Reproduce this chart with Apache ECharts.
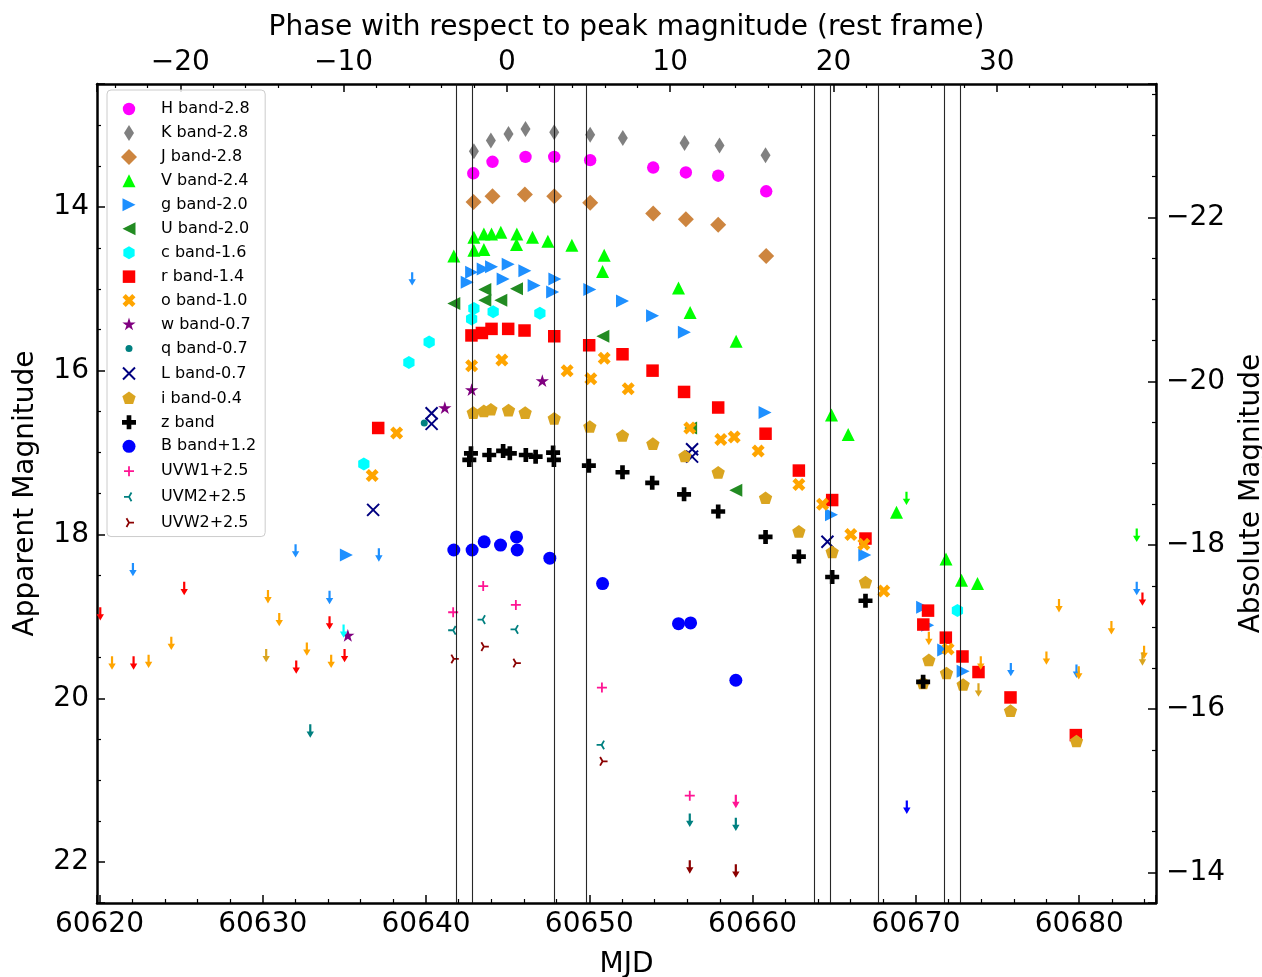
<!DOCTYPE html>
<html><head><meta charset="utf-8">
<script src="https://cdn.jsdelivr.net/npm/echarts@6/dist/echarts.min.js"></script>
<style>html,body{margin:0;padding:0;background:#fff}#c{width:1262px;height:977px}</style>
</head><body><div id="c"></div>
<script>
// ---------------- data (MJD, plotted magnitude incl. legend offsets) ----------------
const H_band = [[60642.89,13.59],[60644.07,13.45],[60646.09,13.39],[60647.85,13.39],[60650.05,13.43],[60653.91,13.52],[60655.91,13.58],[60657.89,13.62],[60660.83,13.81]];
const K_band = [[60642.93,13.32],[60643.97,13.19],[60645.05,13.11],[60646.09,13.05],[60647.85,13.09],[60650.05,13.12],[60652.05,13.16],[60655.83,13.22],[60657.97,13.25],[60660.79,13.37]];
const J_band = [[60642.91,13.94],[60644.07,13.87],[60646.05,13.85],[60647.85,13.87],[60650.05,13.95],[60653.91,14.08],[60655.91,14.15],[60657.89,14.22],[60660.83,14.60]];
const V_band = [[60641.70,14.60],[60642.93,14.37],[60642.93,14.53],[60643.54,14.52],[60643.54,14.33],[60644.01,14.33],[60644.58,14.31],[60645.56,14.33],[60645.54,14.46],[60646.52,14.37],[60647.46,14.42],[60648.93,14.47],[60650.91,14.59],[60650.81,14.79],[60655.46,14.99],[60656.17,15.29],[60658.99,15.64],[60664.83,16.54],[60665.85,16.78],[60668.81,17.73],[60671.84,18.30],[60672.79,18.56],[60673.77,18.60]];
const g_band = [[60635.12,18.25],[60642.52,14.92],[60642.79,14.80],[60643.50,14.76],[60644.01,14.73],[60644.72,14.88],[60645.03,14.70],[60646.05,14.78],[60646.62,14.96],[60647.89,14.88],[60647.75,15.04],[60650.03,15.01],[60652.03,15.15],[60653.87,15.33],[60655.82,15.53],[60660.76,16.51],[60664.83,17.76],[60666.87,18.25],[60670.41,18.89],[60670.72,19.11],[60671.70,19.41],[60672.89,19.67]];
const U_band = [[60641.70,15.18],[60643.60,15.01],[60643.60,15.14],[60644.58,15.14],[60645.54,15.00],[60650.83,15.58],[60656.20,16.70],[60658.97,17.46]];
const c_band = [[60636.19,17.14],[60638.95,15.90],[60640.19,15.65],[60642.79,15.37],[60642.93,15.24],[60644.11,15.28],[60646.97,15.30],[60672.54,18.93]];
const r_band = [[60637.07,16.70],[60642.78,15.57],[60643.42,15.54],[60644.01,15.49],[60645.03,15.49],[60646.03,15.51],[60647.85,15.58],[60649.99,15.69],[60652.03,15.80],[60653.87,16.00],[60655.80,16.26],[60657.89,16.45],[60660.79,16.77],[60662.83,17.22],[60664.87,17.58],[60666.91,18.05],[60670.45,19.10],[60670.74,18.93],[60671.83,19.26],[60672.85,19.49],[60673.83,19.68],[60675.79,19.99],[60679.79,20.45]];
const o_band = [[60636.70,17.28],[60638.20,16.76],[60642.79,15.94],[60644.64,15.87],[60648.64,16.00],[60650.09,16.10],[60650.91,15.85],[60652.38,16.22],[60656.15,16.70],[60658.05,16.84],[60658.87,16.81],[60660.34,16.98],[60662.83,17.39],[60664.28,17.63],[60666.01,18.00],[60666.81,18.12],[60668.03,18.69],[60671.97,19.40]];
const w_band = [[60635.21,19.24],[60641.15,16.46],[60642.79,16.24],[60647.12,16.13]];
const q_band = [[60639.89,16.64]];
const L_band = [[60636.76,17.70],[60640.34,16.52],[60640.34,16.65],[60656.29,16.96],[60656.29,17.05],[60664.58,18.09]];
const i_band = [[60642.89,16.52],[60643.54,16.50],[60643.97,16.48],[60645.05,16.49],[60646.07,16.52],[60647.85,16.59],[60650.03,16.69],[60652.03,16.80],[60653.89,16.90],[60655.85,17.05],[60657.89,17.25],[60660.79,17.56],[60662.83,17.97],[60664.87,18.22],[60666.91,18.59],[60670.44,19.82],[60670.79,19.54],[60671.87,19.70],[60672.89,19.84],[60675.79,20.16],[60679.83,20.53]];
const z_band = [[60642.75,17.01],[60642.65,17.09],[60643.87,17.03],[60644.72,16.98],[60645.13,17.01],[60646.11,17.03],[60646.71,17.05],[60647.78,17.00],[60647.83,17.09],[60649.97,17.16],[60652.03,17.24],[60653.85,17.37],[60655.80,17.51],[60657.89,17.72],[60660.79,18.03],[60662.83,18.27],[60664.87,18.52],[60666.91,18.81],[60670.44,19.80]];
const B_band = [[60641.70,18.19],[60642.82,18.19],[60643.56,18.09],[60644.56,18.13],[60645.54,18.03],[60645.58,18.19],[60647.58,18.29],[60650.81,18.60],[60655.46,19.09],[60656.20,19.08],[60658.97,19.78]];
const UVW1 = [[60641.66,18.95],[60643.50,18.63],[60645.50,18.86],[60650.77,19.87],[60656.15,21.19]];
const UVM2 = [[60641.66,19.17],[60643.46,19.04],[60645.48,19.16],[60650.75,20.57]];
const UVW2 = [[60641.70,19.52],[60643.54,19.37],[60645.50,19.57],[60650.81,20.77]];

// upper limits (arrows)
const lim_r = [[60620.05,18.97],[60622.09,19.57],[60625.19,18.66],[60632.05,19.62],[60634.09,19.08],[60635.01,19.48],[60683.87,18.79]];
const lim_g = [[60622.05,18.43],[60632.01,18.20],[60634.09,18.77],[60637.11,18.25],[60639.15,14.88],[60675.81,19.65],[60679.83,19.67],[60683.52,18.66]];
const lim_o = [[60620.77,19.57],[60623.01,19.55],[60624.40,19.33],[60630.32,18.76],[60631.01,19.04],[60632.70,19.40],[60634.19,19.55],[60670.79,19.27],[60673.97,19.57],[60677.99,19.51],[60678.76,18.87],[60679.97,19.69],[60681.97,19.14],[60683.97,19.44]];
const lim_i = [[60630.21,19.48],[60673.83,19.90],[60683.87,19.52]];
const lim_c = [[60634.95,19.18]];
const lim_V = [[60669.42,17.56],[60683.52,18.01]];
const lim_B = [[60669.44,21.33]];
const lim_UVW1 = [[60658.97,21.26]];
const lim_UVM2 = [[60632.91,20.40],[60656.15,21.49],[60658.97,21.54]];
const lim_UVW2 = [[60656.15,22.06],[60658.97,22.11]];

// spectral epochs (vertical lines)
const spec_mjd = [60641.83, 60642.85, 60647.83, 60649.80, 60663.75, 60664.73, 60667.71, 60671.72, 60672.70];

// axes
const X_MIN = 60619.85, X_MAX = 60684.7;
const T_PEAK = 60644.95, Z = 0.0;
const Y_MIN = 12.5, Y_MAX = 22.5;
const DIST_MOD = 36.13;

// ---------------- rendering ----------------
const FONT = 'DejaVu Sans';
const F = 'M0,0M20,20';  // 20x20 frame so 1 unit = 1 px
const SYM = {
  circle: F+'M16.2,10A6.2,6.2,0,1,1,3.8,10A6.2,6.2,0,1,1,16.2,10Z',
  circleB: F+'M16.5,10A6.5,6.5,0,1,1,3.5,10A6.5,6.5,0,1,1,16.5,10Z',
  thinDiamond: F+'M10,2L15,10L10,18L5,10Z',
  diamond: F+'M10,2L18,10L10,18L2,10Z',
  triUp: F+'M10,3.5L16.5,16.5L3.5,16.5Z',
  triRight: F+'M3.5,3.5L16.5,10L3.5,16.5Z',
  triLeft: F+'M16.5,3.5L3.5,10L16.5,16.5Z',
  hexagon: F+'M10,3.5L15.63,6.75L15.63,13.25L10,16.5L4.37,13.25L4.37,6.75Z',
  square: F+'M3.75,3.75L16.25,3.75L16.25,16.25L3.75,16.25Z',
  xFilled: F+'M13.25,3.5L16.5,6.75L13.25,10L16.5,13.25L13.25,16.5L10,13.25L6.75,16.5L3.5,13.25L6.75,10L3.5,6.75L6.75,3.5L10,6.75Z',
  star: F+'M10,3L11.57,7.84L16.66,7.84L12.54,10.83L14.11,15.66L10,12.67L5.89,15.66L7.46,10.83L3.34,7.84L8.43,7.84Z',
  dot: F+'M13.5,10A3.5,3.5,0,1,1,6.5,10A3.5,3.5,0,1,1,13.5,10Z',
  xLine: F+'M4,4L16,16M16,4L4,16',
  pentagon: F+'M10,3L16.66,7.84L14.11,15.66L5.89,15.66L3.34,7.84Z',
  plusFilled: F+'M7.67,3L12.33,3L12.33,7.67L17,7.67L17,12.33L12.33,12.33L12.33,17L7.67,17L7.67,12.33L3,12.33L3,7.67L7.67,7.67Z',
  plusLine: F+'M10,5L10,15M5,10L15,10',
  triLineLeft: F+'M10,10L5,10M10,10L12.5,5.67M10,10L12.5,14.33',
  triLineRight: F+'M10,10L15,10M10,10L7.5,5.67M10,10L7.5,14.33',
  arrow: F+'M8.9,3.3L11.1,3.3L11.1,10.4L13.7,10.4L10,16.7L6.3,10.4L8.9,10.4Z'
};

const bands = [
  ['H band-2.8', H_band, '#ff00ff', 'circle', 0],
  ['K band-2.8', K_band, '#808080', 'thinDiamond', 0],
  ['J band-2.8', J_band, '#cd853f', 'diamond', 0],
  ['V band-2.4', V_band, '#00ff00', 'triUp', 0],
  ['g band-2.0', g_band, '#1e90ff', 'triRight', 0],
  ['U band-2.0', U_band, '#228b22', 'triLeft', 0],
  ['c band-1.6', c_band, '#00ffff', 'hexagon', 0],
  ['r band-1.4', r_band, '#ff0000', 'square', 0],
  ['o band-1.0', o_band, '#ffa500', 'xFilled', 0],
  ['w band-0.7', w_band, '#800080', 'star', 0],
  ['q band-0.7', q_band, '#008080', 'dot', 0],
  ['L band-0.7', L_band, '#000080', 'xLine', 2],
  ['i band-0.4', i_band, '#daa520', 'pentagon', 0],
  ['z band', z_band, '#000000', 'plusFilled', 0],
  ['B band+1.2', B_band, '#0000ff', 'circleB', 0],
  ['UVW1+2.5', UVW1, '#ff1493', 'plusLine', 1.8],
  ['UVM2+2.5', UVM2, '#008080', 'triLineLeft', 1.8],
  ['UVW2+2.5', UVW2, '#8b0000', 'triLineRight', 1.8]
];
const limits = [
  [lim_r, '#ff0000'], [lim_g, '#1e90ff'], [lim_o, '#ffa500'], [lim_i, '#daa520'],
  [lim_c, '#00ffff'], [lim_V, '#00ff00'], [lim_B, '#0000ff'], [lim_UVW1, '#ff1493'],
  [lim_UVM2, '#008080'], [lim_UVW2, '#8b0000']
];

const series = [];
bands.forEach(([name, data, color, sym, sw]) => {
  series.push({
    type: 'scatter', name: name, data: data, xAxisIndex: 0, yAxisIndex: 0,
    symbol: 'path://' + SYM[sym], symbolSize: 20,
    itemStyle: sw ? {color: color, borderColor: color, borderWidth: sw, opacity: 1} : {color: color, borderWidth: 0, opacity: 1},
    emphasis: {disabled: true}, silent: true, z: 2
  });
});
limits.forEach(([data, color], k) => {
  series.push({
    type: 'scatter', name: 'limit' + k, data: data, xAxisIndex: 0, yAxisIndex: 0,
    symbol: 'path://' + SYM.arrow, symbolSize: 20,
    itemStyle: {color: color, borderWidth: 0, opacity: 1},
    emphasis: {disabled: true}, silent: true, z: 2
  });
});
series.push({
  type: 'scatter', name: 'spectra', data: [], xAxisIndex: 0, yAxisIndex: 0, z: 5,
  markLine: {
    silent: true, symbol: ['none', 'none'], label: {show: false}, animation: false,
    lineStyle: {color: '#111', width: 1.1, type: 'solid', opacity: 0.9},
    data: spec_mjd.map(v => ({xAxis: v}))
  }
});

const minus = v => String(v).replace('-', '\u2212');
function axis(extra, split, margin) {
  return Object.assign({
    type: 'value',
    axisLine: {show: true, onZero: false, lineStyle: {color: '#000', width: 2.5}},
    axisTick: {show: true, inside: true, length: 8, lineStyle: {color: '#000', width: 1.5}},
    minorTick: {show: true, splitNumber: split, length: 4, lineStyle: {color: '#000', width: 1.2}},
    splitLine: {show: false}, minorSplitLine: {show: false},
    axisLabel: {color: '#000', fontFamily: FONT, fontSize: 28, margin: margin, showMinLabel: false, showMaxLabel: false, formatter: minus},
    nameLocation: 'middle',
    nameTextStyle: {color: '#000', fontFamily: FONT, fontSize: 28}
  }, extra);
}

const option = {
  animation: false,
  backgroundColor: '#fff',
  grid: {left: 97, right: 106, top: 84, bottom: 74, containLabel: false, outerBoundsMode: 'none'},
  xAxis: [
    axis({position: 'bottom', min: X_MIN, max: X_MAX, name: 'MJD', nameGap: 48}, 5, 8),
    axis({position: 'top', min: (X_MIN - T_PEAK) / (1 + Z), max: (X_MAX - T_PEAK) / (1 + Z),
          name: 'Phase with respect to peak magnitude (rest frame)', nameGap: 42}, 5, 7)
  ],
  yAxis: [
    axis({position: 'left', inverse: true, min: Y_MIN, max: Y_MAX, name: 'Apparent Magnitude', nameGap: 57, nameRotate: 90}, 4, 8),
    axis({position: 'right', inverse: true, min: Y_MIN - DIST_MOD, max: Y_MAX - DIST_MOD, name: 'Absolute Magnitude', nameGap: 82, nameRotate: 90}, 4, 10)
  ],
  legend: {
    orient: 'vertical', left: 107, top: 90,
    padding: [9, 9, 3, 11], itemWidth: 20, itemHeight: 20, itemGap: 3.95,
    backgroundColor: 'rgba(255,255,255,0.85)', borderColor: '#cccccc', borderWidth: 1, borderRadius: 4,
    textStyle: {fontFamily: FONT, fontSize: 16, color: '#000', lineHeight: 20, padding: [0, 0, 0, 17]},
    itemStyle: {borderWidth: 'inherit'},
    symbolKeepAspect: true, selectedMode: false,
    data: bands.map(b => b[0])
  },
  series: series
};
option.xAxis[0].axisLabel.formatter = v => String(v);

const chart = echarts.init(document.getElementById('c'), null, {renderer: 'canvas'});
chart.setOption(option);
</script>
</body></html>
